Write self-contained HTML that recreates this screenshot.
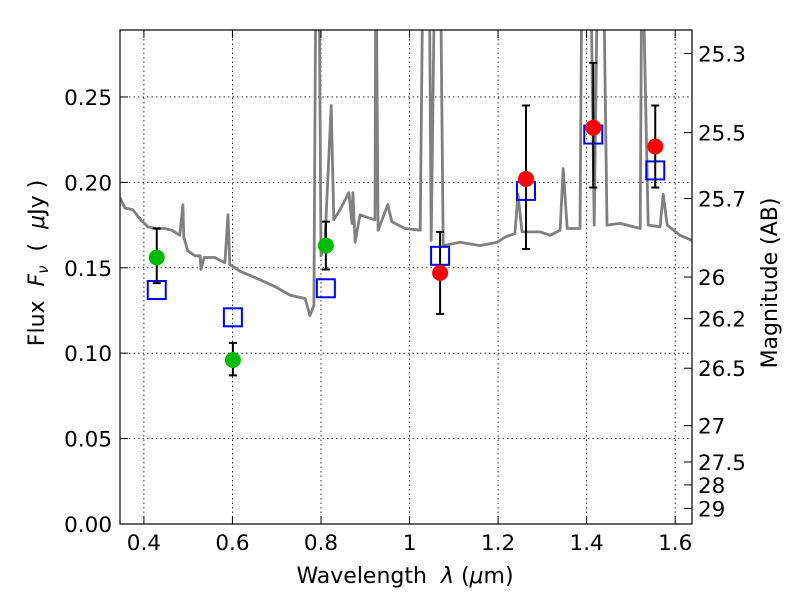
<!DOCTYPE html>
<html><head><meta charset="utf-8"><style>
body{margin:0;background:#fff}
svg text{font-family:"DejaVu Sans","Liberation Sans",sans-serif;font-size:21.5px;fill:#000}
svg text.lab{font-size:22px;white-space:pre}
</style></head><body>
<svg id="chart" width="800" height="600">
<defs><clipPath id="clip"><rect x="120" y="30" width="572" height="494"/></clipPath></defs>
<rect x="0" y="0" width="800" height="600" fill="#fff"/>
<g id="grid"></g>
<g id="spec" clip-path="url(#clip)"></g>
<g id="marks" clip-path="url(#clip)"></g>
<rect x="120" y="30" width="572" height="494" fill="none" stroke="#000" stroke-width="1.2"/>
<g id="axes"></g>
<text class="lab" x="405" y="583" text-anchor="middle">Wavelength  <tspan font-style="italic">λ</tspan> (<tspan font-style="italic">μ</tspan>m)</text>
<text class="lab" transform="translate(44,263) rotate(-90)" text-anchor="middle">Flux  <tspan font-style="italic">F</tspan><tspan font-style="italic" font-size="15" dy="4">ν</tspan><tspan dy="-4">  (  </tspan><tspan font-style="italic">μ</tspan>Jy )</text>
<text class="lab" transform="translate(777,283) rotate(-90)" text-anchor="middle">Magnitude (AB)</text>
</svg>
<script>
const specLam=[0.346,0.357,0.375,0.393,0.409,0.425,0.447,0.463,0.481,0.488,0.490,0.499,0.515,0.527,0.529,0.536,0.560,0.583,0.590,0.594,0.617,0.662,0.696,0.730,0.764,0.775,0.784,0.789,0.795,0.800,0.809,0.823,0.829,0.843,0.863,0.870,0.872,0.877,0.888,0.922,0.924,0.929,0.951,0.960,0.990,1.024,1.031,1.044,1.049,1.058,1.069,1.076,1.114,1.159,1.198,1.216,1.238,1.245,1.254,1.295,1.318,1.340,1.347,1.356,1.385,1.390,1.408,1.417,1.426,1.437,1.446,1.476,1.521,1.525,1.539,1.566,1.573,1.582,1.611,1.638];
const specFlux=[0.191,0.185,0.184,0.178,0.174,0.173,0.173,0.172,0.169,0.187,0.168,0.160,0.157,0.157,0.149,0.156,0.156,0.153,0.181,0.152,0.148,0.143,0.139,0.134,0.132,0.122,0.128,0.35,0.35,0.157,0.166,0.245,0.178,0.184,0.194,0.176,0.194,0.165,0.181,0.178,0.35,0.172,0.187,0.177,0.173,0.172,0.35,0.35,0.166,0.35,0.35,0.163,0.165,0.163,0.165,0.168,0.170,0.193,0.171,0.171,0.169,0.172,0.208,0.173,0.173,0.35,0.35,0.175,0.35,0.35,0.175,0.176,0.173,0.35,0.175,0.174,0.193,0.175,0.169,0.166];
const greenLam=[0.429,0.601,0.811];
const greenFlux=[0.156,0.096,0.163];
const greenLo=[0.141,0.087,0.149];
const greenHi=[0.173,0.106,0.177];
const redLam=[1.069,1.263,1.415,1.555];
const redFlux=[0.147,0.202,0.232,0.221];
const redLo=[0.123,0.161,0.197,0.197];
const redHi=[0.171,0.245,0.270,0.245];
const modelLam=[0.429,0.601,0.811,1.069,1.263,1.415,1.555];
const modelFlux=[0.137,0.121,0.138,0.157,0.195,0.228,0.207];
const xTicks=[0.4,0.6,0.8,1.0,1.2,1.4,1.6];
const xTickLabels=["0.4","0.6","0.8","1","1.2","1.4","1.6"];
const yTicks=[0,0.05,0.10,0.15,0.20,0.25];
const yTickLabels=["0.00","0.05","0.10","0.15","0.20","0.25"];
const magTicks=[25.3,25.5,25.7,26,26.2,26.5,27,27.5,28,29];
const magTickLabels=["25.3","25.5","25.7","26","26.2","26.5","27","27.5","28","29"];

const X0=0.346,X1=1.638,PX0=120,PX1=692,Y0=0,Y1=0.2892,PY0=524,PY1=30;
const sx=v=>PX0+(v-X0)/(X1-X0)*(PX1-PX0);
const sy=v=>PY0-(v-Y0)/(Y1-Y0)*(PY0-PY1);
const magToFlux=m=>Math.pow(10,(23.9-m)/2.5);
const NS="http://www.w3.org/2000/svg";
function mk(tag,attrs,parent){const e=document.createElementNS(NS,tag);for(const k in attrs)e.setAttribute(k,attrs[k]);parent.appendChild(e);return e;}
const grid=document.getElementById('grid'),axes=document.getElementById('axes'),spec=document.getElementById('spec'),marks=document.getElementById('marks');

xTicks.forEach((t,i)=>{const x=sx(t);
 const g=mk('line',{x1:x,x2:x,y1:30,y2:524,stroke:'#000','stroke-width':0.8,'stroke-dasharray':'1.5,3'},grid);
 
 
 mk('line',{x1:x,x2:x,y1:524,y2:516,stroke:'#000'},axes);
 mk('line',{x1:x,x2:x,y1:30,y2:38,stroke:'#000'},axes);
 const tx=mk('text',{x:x,y:550,'text-anchor':'middle'},axes);tx.textContent=xTickLabels[i];
 
 
});
yTicks.forEach((t,i)=>{const y=sy(t);
 const g=mk('line',{x1:120,x2:692,y1:y,y2:y,stroke:'#000','stroke-width':0.8,'stroke-dasharray':'1.5,3'},grid);
 
 
 mk('line',{x1:120,x2:128,y1:y,y2:y,stroke:'#000'},axes);
 const tx=mk('text',{x:112,y:y+8,'text-anchor':'end'},axes);tx.textContent=yTickLabels[i];
 
 
});
magTicks.forEach((m,i)=>{const y=sy(magToFlux(m));
 mk('line',{x1:684,x2:692,y1:y,y2:y,stroke:'#000'},axes);
 const tx=mk('text',{x:698,y:y+8,'text-anchor':'start'},axes);tx.textContent=magTickLabels[i];
 
 
});

const pts=specLam.map((l,i)=>sx(l).toFixed(1)+','+sy(specFlux[i]).toFixed(1)).join(' ');
const pl=mk('polyline',{points:pts,fill:'none',stroke:'#808080','stroke-width':2.8,'stroke-linejoin':'round'},spec);



function errbar(l,lo,hi){const x=sx(l);
 const e=mk('g',{stroke:'#000','stroke-width':2},marks);
 
 
 mk('line',{x1:x,x2:x,y1:sy(lo),y2:sy(hi)},e);
 mk('line',{x1:x-4,x2:x+4,y1:sy(lo),y2:sy(lo)},e);
 mk('line',{x1:x-4,x2:x+4,y1:sy(hi),y2:sy(hi)},e);}
modelLam.forEach((l,i)=>{const s=mk('rect',{x:sx(l)-9,y:sy(modelFlux[i])-9,width:18,height:18,fill:'none',stroke:'#0000ff','stroke-width':2},marks);
 
 });
greenLam.forEach((l,i)=>{errbar(l,greenLo[i],greenHi[i]);
 const c=mk('circle',{cx:sx(l),cy:sy(greenFlux[i]),r:8,fill:'#00bb00'},marks);
 
 });
redLam.forEach((l,i)=>{errbar(l,redLo[i],redHi[i]);
 const c=mk('circle',{cx:sx(l),cy:sy(redFlux[i]),r:8,fill:'#ff0000'},marks);
 
 });
</script>
</body></html>
